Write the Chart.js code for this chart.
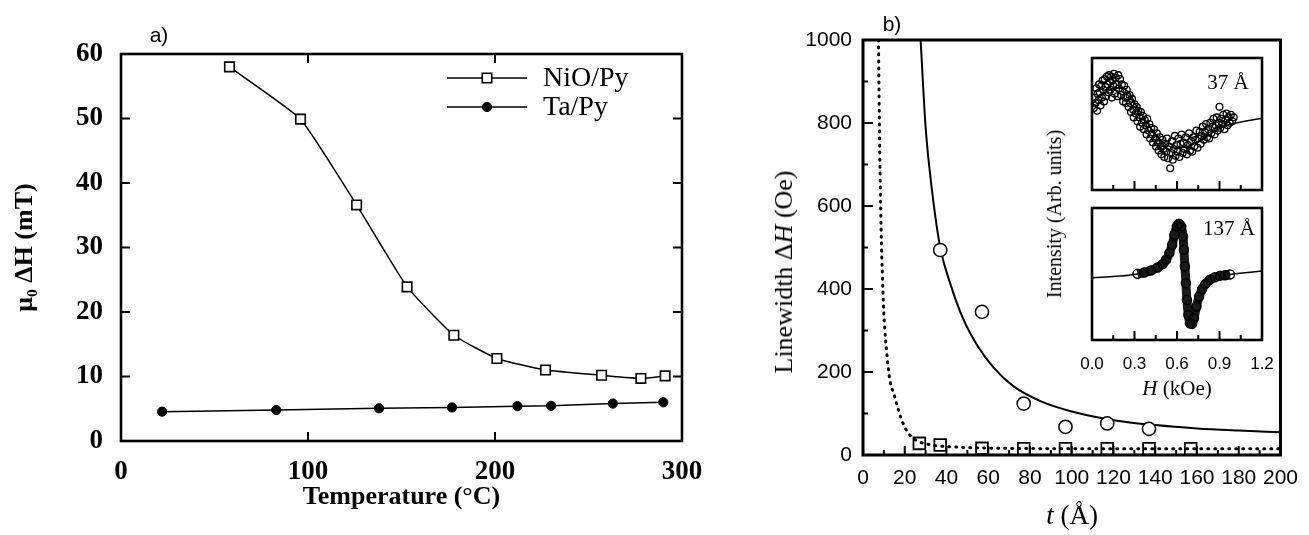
<!DOCTYPE html>
<html>
<head>
<meta charset="utf-8">
<script src="https://cdn.jsdelivr.net/npm/chart.js@4.4.1/dist/chart.umd.min.js"></script>
<style>
  body { margin: 0; background: #fff; width: 1309px; height: 535px; overflow: hidden; position: relative; }
  canvas { position: absolute; }
  .lbl { position: absolute; white-space: nowrap; color: #000; transform: translate(-50%, -50%); line-height: 1; }
  .serif { font-family: 'Liberation Serif', 'Times New Roman', serif; }
  .sans { font-family: 'Liberation Sans', Arial, sans-serif; }
  .rot { transform: translate(-50%, -50%) rotate(-90deg); }
</style>
</head>
<body>
<canvas id="chartA" width="730" height="535" style="left:0;top:0"></canvas>
<canvas id="chartB" width="569" height="535" style="left:740px;top:0"></canvas>
<canvas id="inset37" width="190" height="150" style="left:1082px;top:50px"></canvas>
<canvas id="inset137" width="224" height="180" style="left:1065px;top:200px"></canvas>

<div class="lbl sans" style="left:159px;top:34px;font-size:21px">a)</div>
<div class="lbl sans" style="left:892px;top:23px;font-size:21px">b)</div>
<div class="lbl serif rot" style="left:784px;top:272px;font-size:26px">Linewidth Δ<i>H</i> (Oe)</div>
<div class="lbl serif" style="left:1072px;top:515px;font-size:27px"><i>t</i> (Å)</div>
<div class="lbl serif rot" style="left:1054px;top:214px;font-size:20px">Intensity (Arb. units)</div>
<div class="lbl serif" style="left:1177px;top:388px;font-size:21px"><i>H</i> (kOe)</div>
<div class="lbl serif" style="left:1228px;top:82px;font-size:21px">37 Å</div>
<div class="lbl serif" style="left:1229px;top:228px;font-size:21px">137 Å</div>

<script>
// ---- panel a: linewidth vs annealing temperature ----
const nioTemp = [58, 96, 126, 153, 178, 201, 227, 257, 278, 291];
const nioWidth = [58.0, 49.9, 36.6, 23.9, 16.4, 12.8, 11.0, 10.2, 9.7, 10.1];
const taTemp = [22, 83, 138, 177, 212, 230, 263, 290];
const taWidth = [4.55, 4.8, 5.07, 5.2, 5.4, 5.45, 5.8, 6.0];
const tempTicks = [0, 100, 200, 300];
const mtTicks = [0, 10, 20, 30, 40, 50, 60];

// ---- panel b: linewidth vs thickness ----
const circT = [37, 57, 77, 97, 117, 137];
const circW = [494, 345, 124, 68, 76, 63];
const sqT = [27, 37, 57, 77, 97, 117, 137, 157];
const sqW = [28, 24, 16, 15, 15, 15, 15, 15];
const fitT = [27.6, 30, 33, 37, 42, 48, 55, 63, 72, 85, 100, 120, 140, 160, 180, 200];
const fitW = [1000, 790, 640, 500, 410, 328, 262, 208, 166, 130, 105, 84, 72, 64, 59, 55];
const dotT = [7.4, 7.8, 8.3, 9, 10, 11.5, 13, 14.7, 16.3, 18, 20.3, 23, 27, 33, 45, 70, 120, 200];
const dotW = [1000, 820, 640, 480, 340, 240, 177, 149, 120, 92, 64, 45, 32, 24, 19, 16, 15, 15];
const tMajor = [20, 40, 60, 80, 100, 120, 140, 160, 180];
const tMinor = [10, 30, 50, 70, 90, 110, 130, 150, 170, 190];
const oeMajor = [200, 400, 600, 800];
const oeMinor = [100, 300, 500, 700, 900];

// ---- insets: FMR spectra ----
const h37 = [
  0.012, 0.018, 0.025, 0.03, 0.036, 0.04, 0.047, 0.05, 0.055, 0.06, 0.066, 0.07, 0.075, 0.08, 0.085, 0.09, 0.096, 0.1, 0.105, 0.11, 0.115, 0.12, 0.125,
  0.13, 0.135, 0.14, 0.145, 0.15, 0.155, 0.16, 0.168, 0.175, 0.18, 0.185, 0.19, 0.198, 0.205, 0.21, 0.215, 0.22, 0.228, 0.235, 0.24, 0.245, 0.25, 0.258,
  0.265, 0.27, 0.275, 0.282, 0.29, 0.295, 0.3, 0.308, 0.315, 0.32, 0.327, 0.335, 0.34, 0.345, 0.352, 0.36, 0.365, 0.372, 0.38, 0.385, 0.39, 0.398, 0.405, 0.41, 0.417, 0.424, 0.43, 0.437, 0.445, 0.452, 0.458,
  0.465, 0.47, 0.478, 0.485, 0.49, 0.497, 0.505, 0.51, 0.517, 0.525, 0.53, 0.537, 0.545, 0.552, 0.558, 0.565, 0.57, 0.577, 0.585, 0.59, 0.597, 0.605, 0.61, 0.617, 0.625, 0.632, 0.64, 0.647, 0.655, 0.662, 0.67, 0.677, 0.685, 0.692, 0.7, 0.707, 0.715, 0.722, 0.73, 0.737, 0.745, 0.752,
  0.76, 0.767, 0.775, 0.782, 0.79, 0.797, 0.805, 0.812, 0.82, 0.827, 0.835, 0.842, 0.85, 0.857, 0.865, 0.872, 0.88, 0.887, 0.895, 0.9, 0.905, 0.912, 0.92, 0.927, 0.935, 0.942, 0.95, 0.957, 0.965, 0.972, 0.98, 0.99, 1.0];
const v37 = [
  6.2, 7.0, 6.6, 7.7, 6.0, 7.3, 6.8, 8.0, 7.4, 6.4, 7.9, 7.0, 8.3, 7.6, 6.7, 8.4, 7.8, 7.1, 8.6, 8.0, 7.4, 8.7, 8.2,
  7.6, 8.6, 7.0, 8.3, 7.9, 8.8, 7.3, 8.5, 8.0, 7.1, 8.7, 7.7, 8.4, 7.2, 8.0, 7.5, 6.7, 7.9, 7.0, 6.6, 7.6, 7.1, 6.3,
  7.2, 6.6, 5.9, 6.9, 6.1, 5.5, 6.5, 5.8, 6.3, 5.2, 6.0, 5.5, 4.8, 5.9, 5.1, 5.6, 4.6, 5.3, 4.9, 4.2, 5.4, 4.5, 5.0, 3.9, 4.7, 4.2, 3.6, 4.6, 3.9, 3.3, 4.3,
  3.6, 3.0, 4.0, 3.3, 2.7, 3.8, 3.1, 2.5, 3.5, 2.9, 3.9, 2.4, 3.3, 1.65, 2.8, 3.7, 2.3, 3.1, 4.1, 2.6, 3.4, 2.9, 3.9, 2.5, 3.5, 4.2, 2.8, 3.6, 3.1, 4.0, 2.7, 3.4, 4.3, 3.0, 3.7, 2.9, 4.0, 3.3, 3.8, 4.5, 3.2, 3.9,
  4.4, 3.5, 4.1, 4.8, 3.8, 4.4, 5.0, 4.0, 4.6, 3.9, 5.1, 4.3, 4.8, 5.4, 4.2, 4.9, 5.5, 4.5, 5.1, 6.3, 4.7, 5.4, 5.0, 5.7, 4.6, 5.3, 5.8, 4.9, 5.5, 5.1, 5.7, 5.2, 5.5];
const fit37H = [0, 0.089, 0.182, 0.253, 0.323, 0.416, 0.510, 0.603, 0.697, 0.791, 0.884, 0.978, 1.071, 1.2];
const fit37V = [6.51, 7.34, 7.72, 7.47, 6.20, 4.68, 3.54, 3.16, 3.37, 3.92, 4.56, 4.99, 5.19, 5.44];

const h137 = [0.321, 0.368, 0.416, 0.463, 0.499, 0.523, 0.546, 0.566, 0.582, 0.599, 0.613, 0.630, 0.642, 0.649, 0.656,
  0.663, 0.670, 0.680, 0.691, 0.706, 0.720, 0.737, 0.756, 0.777, 0.801, 0.832, 0.867, 0.903, 0.939, 0.974];
const v137 = [5.01, 5.11, 5.27, 5.49, 5.75, 6.08, 6.58, 7.22, 7.97, 8.61, 8.81, 8.61, 7.85, 6.84, 5.57,
  4.30, 3.04, 1.90, 1.27, 1.22, 1.65, 2.53, 3.29, 3.85, 4.25, 4.56, 4.76, 4.86, 4.91, 4.96];
const fit137H = [0, 0.1, 0.2, 0.3, 0.4, 0.5, 0.55, 0.6, 0.615, 0.64, 0.66, 0.68, 0.7, 0.72, 0.75, 0.8, 0.9, 1.0, 1.1, 1.2];
const fit137V = [4.72, 4.78, 4.85, 4.97, 5.2, 5.75, 6.7, 8.6, 8.8, 8.0, 4.8, 1.9, 1.2, 1.6, 3.1, 4.25, 4.85, 5.0, 5.12, 5.22];
const fieldTicks = [0, 0.3, 0.6, 0.9, 1.2];
const fieldMajor = [0.3, 0.6, 0.9];
const fieldMinor = [0.15, 0.45, 0.75, 1.05];

const SERIF = "'Liberation Serif', 'Times New Roman', serif";
const SANS = "'Liberation Sans', Arial, sans-serif";

Chart.defaults.color = '#000';
Chart.defaults.animation = false;
Chart.defaults.responsive = false;
Chart.defaults.devicePixelRatio = 1;
Chart.defaults.plugins.legend.display = false;
Chart.defaults.plugins.tooltip.enabled = false;

const pts = (xs, ys) => xs.map((x, i) => ({ x: x, y: ys[i] }));

// frame around the plot area plus tick marks pointing inward
const frameTicks = {
  id: 'frameTicks',
  afterDatasetsDraw(chart, args, opts) {
    const { ctx, chartArea: a } = chart;
    ctx.save();
    ctx.strokeStyle = '#000';
    ctx.lineWidth = opts.tickWidth;
    for (const m of opts.marks) {
      const sc = chart.scales[m.axis];
      for (const v of m.at) {
        const p = sc.getPixelForValue(v);
        ctx.beginPath();
        if (m.side === 'left') { ctx.moveTo(a.left, p); ctx.lineTo(a.left + m.len, p); }
        else if (m.side === 'right') { ctx.moveTo(a.right, p); ctx.lineTo(a.right - m.len, p); }
        else if (m.side === 'top') { ctx.moveTo(p, a.top); ctx.lineTo(p, a.top + m.len); }
        else { ctx.moveTo(p, a.bottom); ctx.lineTo(p, a.bottom - m.len); }
        ctx.stroke();
      }
    }
    ctx.lineWidth = opts.frameWidth;
    ctx.strokeRect(a.left, a.top, a.right - a.left, a.bottom - a.top);
    ctx.restore();
  }
};

// legend with the marker sitting on a short line segment
const lineLegend = {
  id: 'lineLegend',
  afterDraw(chart, args, opts) {
    if (!opts.x) return;
    const ctx = chart.ctx;
    chart.data.datasets.forEach((ds, i) => {
      const y = opts.y + i * opts.gap;
      ctx.save();
      ctx.strokeStyle = '#000';
      ctx.lineWidth = ds.borderWidth;
      ctx.beginPath();
      ctx.moveTo(opts.x, y);
      ctx.lineTo(opts.x + opts.len, y);
      ctx.stroke();
      ctx.fillStyle = ds.pointBackgroundColor;
      ctx.lineWidth = ds.pointBorderWidth;
      Chart.helpers.drawPoint(ctx, { pointStyle: ds.pointStyle, radius: ds.pointRadius, borderWidth: ds.pointBorderWidth, rotation: 0 }, opts.x + opts.len / 2, y);
      ctx.fillStyle = '#000';
      ctx.font = opts.font;
      ctx.textBaseline = 'middle';
      ctx.fillText(ds.label, opts.x + opts.len + opts.textGap, y + 1);
      ctx.restore();
    });
  }
};

Chart.register(frameTicks, lineLegend);

// panel a
new Chart(document.getElementById('chartA'), {
  type: 'line',
  data: {
    datasets: [
      {
        label: 'NiO/Py',
        data: pts(nioTemp, nioWidth),
        borderColor: '#000',
        borderWidth: 1.5,
        tension: 0.14,
        pointStyle: 'rect',
        pointRadius: 6.7,
        pointBorderWidth: 1.6,
        pointBorderColor: '#000',
        pointBackgroundColor: '#fff',
        clip: false
      },
      {
        label: 'Ta/Py',
        data: pts(taTemp, taWidth),
        borderColor: '#000',
        borderWidth: 1.5,
        tension: 0,
        pointStyle: 'circle',
        pointRadius: 4.6,
        pointBorderWidth: 1,
        pointBorderColor: '#000',
        pointBackgroundColor: '#000',
        clip: false
      }
    ]
  },
  options: {
    layout: { padding: { left: 0, top: 54, right: 48, bottom: 0 } },
    scales: {
      x: {
        type: 'linear', min: 0, max: 300,
        afterBuildTicks: s => { s.ticks = tempTicks.map(v => ({ value: v })); },
        afterFit: s => { s.height = 94; },
        grid: { display: false, drawTicks: false },
        border: { display: false },
        ticks: { font: { family: SERIF, size: 27, weight: 'bold' }, padding: 15, maxRotation: 0 },
        title: { display: true, text: 'Temperature (°C)', font: { family: SERIF, size: 26, weight: 'bold' }, padding: { top: 0, bottom: 22 } }
      },
      y: {
        min: 0, max: 60,
        afterBuildTicks: s => { s.ticks = mtTicks.map(v => ({ value: v })); },
        afterFit: s => { s.width = 121; },
        grid: { display: false, drawTicks: false },
        border: { display: false },
        ticks: { font: { family: SERIF, size: 27, weight: 'bold' }, padding: 18 },
        title: { display: true, text: 'μ₀ ΔH (mT)', font: { family: SERIF, size: 26, weight: 'bold' }, padding: { top: 10, bottom: 0 } }
      }
    },
    plugins: {
      frameTicks: {
        tickWidth: 2, frameWidth: 2.6,
        marks: [
          { axis: 'y', side: 'left', at: mtTicks, len: 9 },
          { axis: 'y', side: 'right', at: mtTicks, len: 9 },
          { axis: 'x', side: 'top', at: tempTicks, len: 9 },
          { axis: 'x', side: 'bottom', at: tempTicks, len: 9 }
        ]
      },
      lineLegend: { x: 447, y: 78, gap: 29, len: 80, textGap: 16, font: "28px " + SERIF }
    }
  }
});

// panel b
new Chart(document.getElementById('chartB'), {
  type: 'line',
  data: {
    datasets: [
      {
        data: pts(circT, circW),
        showLine: false,
        pointStyle: 'circle',
        pointRadius: 6.6,
        pointBorderWidth: 1.5,
        pointBorderColor: '#000',
        pointBackgroundColor: '#fff',
        clip: false
      },
      {
        data: pts(sqT, sqW),
        showLine: false,
        pointStyle: 'rect',
        pointRadius: 8.3,
        pointBorderWidth: 1.8,
        pointBorderColor: '#000',
        pointBackgroundColor: 'rgba(255,255,255,0)',
        clip: false
      },
      {
        data: pts(fitT, fitW),
        borderColor: '#000',
        borderWidth: 2,
        pointRadius: 0,
        cubicInterpolationMode: 'monotone'
      },
      {
        data: pts(dotT, dotW),
        borderColor: '#000',
        borderWidth: 3,
        borderDash: [1, 6],
        borderCapStyle: 'round',
        pointRadius: 0,
        cubicInterpolationMode: 'monotone'
      }
    ]
  },
  options: {
    layout: { padding: { left: 0, top: 40, right: 28, bottom: 0 } },
    scales: {
      x: {
        type: 'linear', min: 0, max: 200,
        afterBuildTicks: s => { s.ticks = [0].concat(tMajor, [200]).map(v => ({ value: v })); },
        afterFit: s => { s.height = 80; },
        grid: { display: false, drawTicks: false },
        border: { display: false },
        ticks: { font: { family: SANS, size: 21 }, padding: 11, maxRotation: 0, autoSkip: false, callback: v => String(v) }
      },
      y: {
        min: 0, max: 1000,
        afterBuildTicks: s => { s.ticks = [0].concat(oeMajor, [1000]).map(v => ({ value: v })); },
        afterFit: s => { s.width = 123; },
        grid: { display: false, drawTicks: false },
        border: { display: false },
        ticks: { font: { family: SANS, size: 21 }, padding: 11, callback: v => String(v) }
      }
    },
    plugins: {
      frameTicks: {
        tickWidth: 2, frameWidth: 3,
        marks: [
          { axis: 'y', side: 'left', at: oeMajor, len: 10 },
          { axis: 'y', side: 'left', at: oeMinor, len: 5 },
          { axis: 'x', side: 'bottom', at: tMajor, len: 9 },
          { axis: 'x', side: 'bottom', at: tMinor, len: 5 }
        ]
      }
    }
  }
});

// inset spectra share the same styling
function insetOptions(showLabels, padding) {
  return {
    layout: { padding: padding },
    scales: {
      x: {
        type: 'linear', min: 0, max: 1.2, display: showLabels,
        afterBuildTicks: s => { s.ticks = fieldTicks.map(v => ({ value: v })); },
        afterFit: s => { if (showLabels) s.height = 40; },
        grid: { display: false, drawTicks: false },
        border: { display: false },
        ticks: { font: { family: SANS, size: 17 }, padding: 14, maxRotation: 0, autoSkip: false,
          callback: v => v.toFixed(1) }
      },
      y: { min: 0, max: 10, display: false }
    },
    plugins: {
      frameTicks: {
        tickWidth: 2, frameWidth: 2.6,
        marks: [
          { axis: 'x', side: 'bottom', at: fieldMajor, len: 9 },
          { axis: 'x', side: 'bottom', at: fieldMinor, len: 5 }
        ]
      }
    }
  };
}

new Chart(document.getElementById('inset37'), {
  type: 'line',
  data: {
    datasets: [
      {
        data: pts(h37, v37),
        showLine: false,
        pointStyle: 'circle',
        pointRadius: 3.4,
        pointBorderWidth: 1.3,
        pointBorderColor: '#000',
        pointBackgroundColor: 'rgba(255,255,255,0)'
      },
      {
        data: pts(fit37H, fit37V),
        borderColor: '#000',
        borderWidth: 1.5,
        pointRadius: 0,
        cubicInterpolationMode: 'monotone'
      }
    ]
  },
  options: insetOptions(false, { left: 10, top: 8, right: 10, bottom: 10 })
});

new Chart(document.getElementById('inset137'), {
  type: 'line',
  data: {
    datasets: [
      {
        data: pts(h137, v137),
        borderColor: '#1a1a1a',
        borderWidth: 9,
        cubicInterpolationMode: 'monotone',
        pointStyle: 'circle',
        pointRadius: 4.5,
        pointBorderWidth: 1.5,
        pointBorderColor: '#000',
        pointBackgroundColor: 'rgba(255,255,255,0)'
      },
      {
        data: pts(fit137H, fit137V),
        borderColor: '#000',
        borderWidth: 1.5,
        pointRadius: 0,
        cubicInterpolationMode: 'monotone'
      }
    ]
  },
  options: insetOptions(true, { left: 27, top: 8, right: 27, bottom: 0 })
});
</script>
</body>
</html>
